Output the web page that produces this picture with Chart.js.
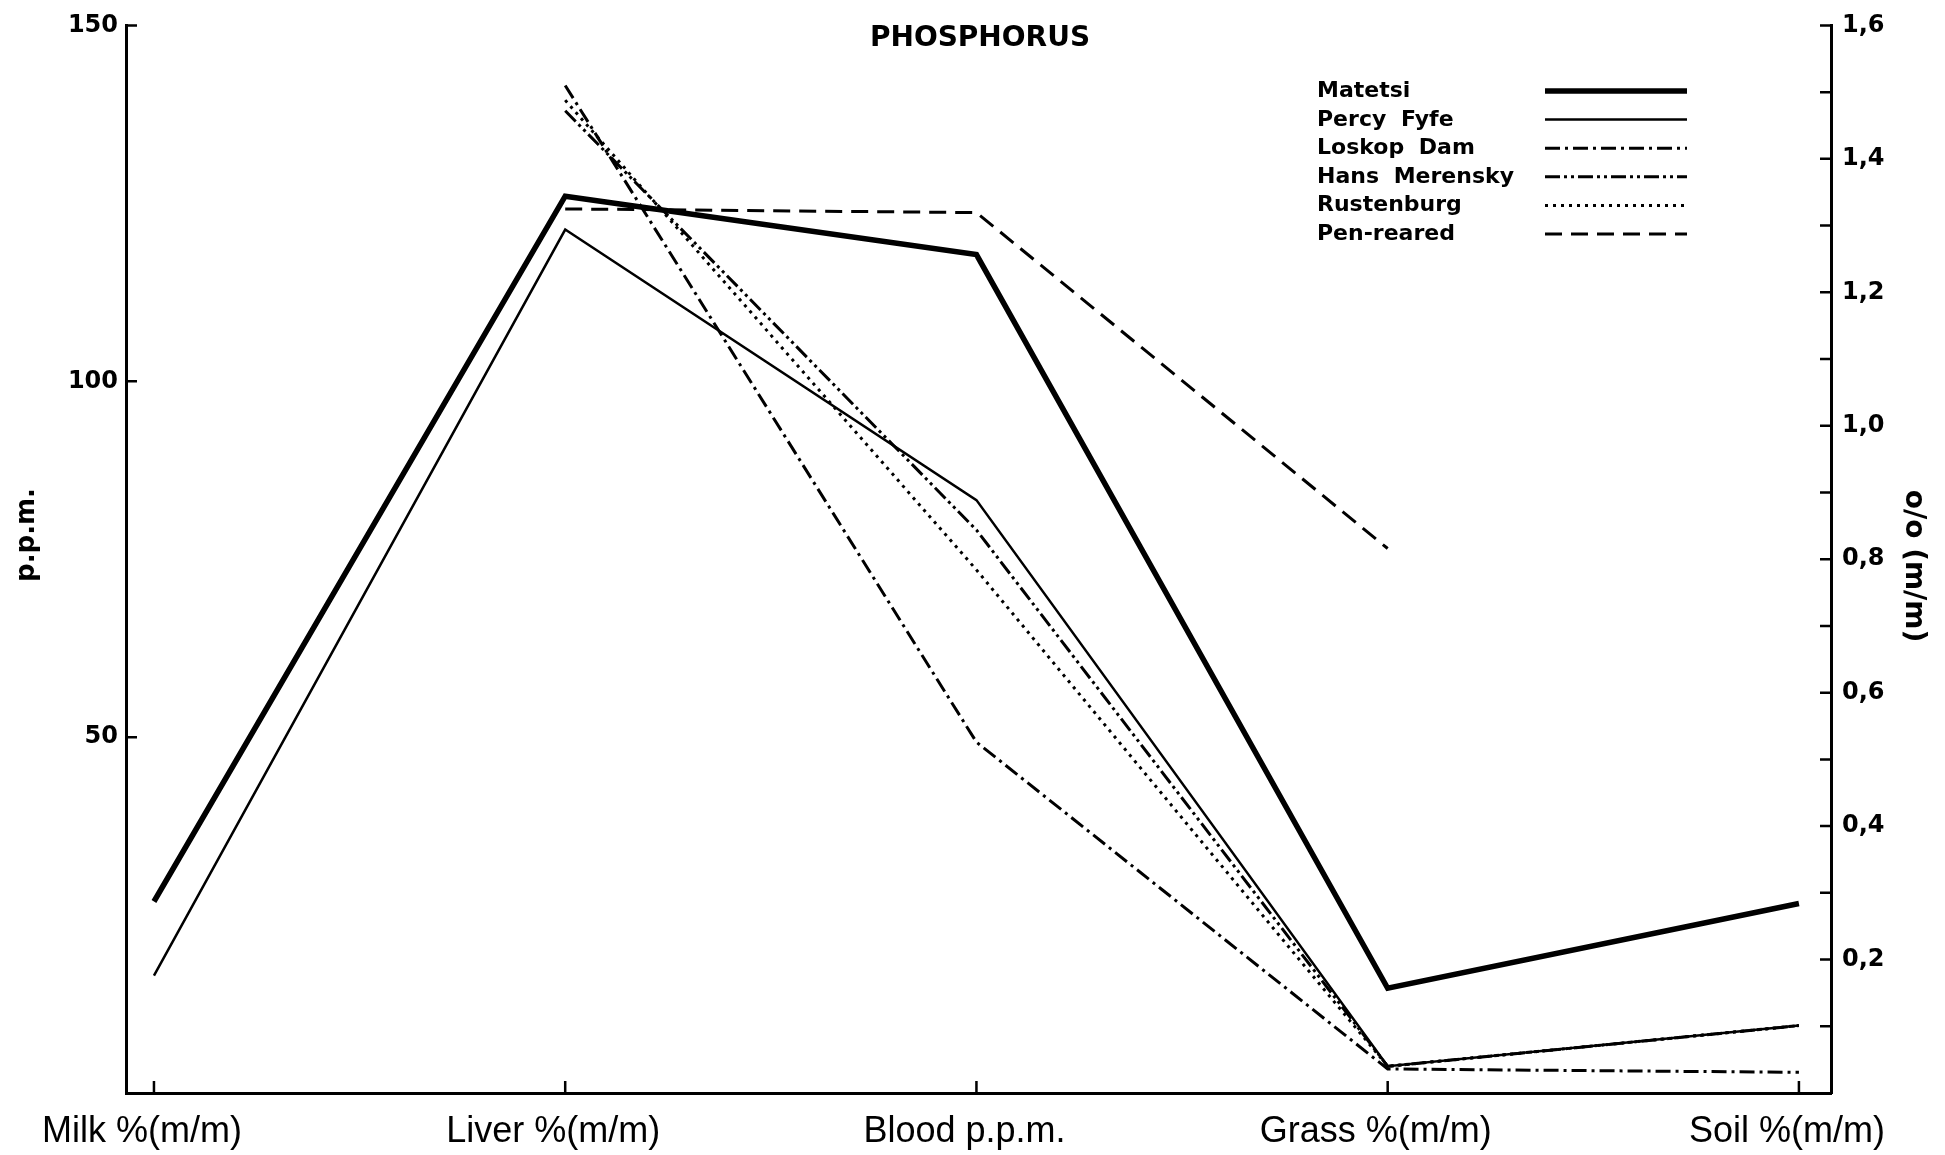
<!DOCTYPE html>
<html>
<head>
<meta charset="utf-8">
<title>Phosphorus</title>
<script src="https://cdn.jsdelivr.net/npm/chart.js@4.4.1/dist/chart.umd.min.js"></script>
<style>
  html, body { margin: 0; padding: 0; background: #fff; overflow: hidden; }
  #wrap { width: 1945px; height: 1155px; }
</style>
</head>
<body>
<div id="wrap"><canvas id="chart" width="1945" height="1155"></canvas></div>
<script>
// Sample types along the horizontal axis and the unit each one is read in
const categories = ['Milk %(m/m)', 'Liver %(m/m)', 'Blood p.p.m.', 'Grass %(m/m)', 'Soil %(m/m)'];
const categoryUnits = ['%', '%', 'ppm', '%', '%'];

// Axis ranges: left axis in p.p.m., right axis in % (m/m)
const ppmRange = [0, 150];
const ppmStep = 50;
const pctRange = [0, 1.6];
const pctStep = 0.1;

// Phosphorus levels per area (null = not sampled)
const seriesNames = ['Matetsi', 'Percy Fyfe', 'Loskop Dam', 'Hans Merensky', 'Rustenburg', 'Pen-reared'];
const matetsi      = [0.287, 1.344, 117.8, 0.157, 0.284];
const percyFyfe    = [0.176, 1.294,  83.3, 0.040, 0.101];
const loskopDam    = [null,  1.510,  49.3, 0.036, 0.031];
const hansMerensky = [null,  1.472,  79.1, 0.040, 0.101];
const rustenburg   = [null,  1.488,  73.5, 0.040, 0.101];
const penReared    = [null,  1.325, 123.7, 0.816, null];
const seriesValues = [matetsi, percyFyfe, loskopDam, hansMerensky, rustenburg, penReared];

// Line styles, one per area
const lineStyles = [
  { width: 5.5, dash: [] },
  { width: 2.5, dash: [] },
  { width: 3,   dash: [15, 5, 3, 5] },
  { width: 3,   dash: [15, 4, 3, 4, 3, 4] },
  { width: 3,   dash: [3, 5] },
  { width: 3,   dash: [17, 9] }
];

// Everything is plotted against the right-hand % axis; p.p.m. readings are
// carried over through the ratio of the two axis ranges.
function toPoints(values) {
  const pts = [];
  values.forEach((v, i) => {
    if (v === null) return;
    const y = categoryUnits[i] === 'ppm' ? v * pctRange[1] / ppmRange[1] : v;
    pts.push({ x: i, y: y });
  });
  return pts;
}

const datasets = seriesNames.map((name, i) => ({
  label: name,
  data: toPoints(seriesValues[i]),
  yAxisID: 'y1',
  borderColor: '#000',
  backgroundColor: '#000',
  borderWidth: lineStyles[i].width,
  borderDash: lineStyles[i].dash,
  borderCapStyle: 'butt',
  borderJoinStyle: 'miter',
  pointRadius: 0,
  pointHoverRadius: 0,
  tension: 0,
  fill: false
}));

const FONT = '"DejaVu Sans", "Liberation Sans", sans-serif';

// Inward-pointing tick marks on all three axes
const tickMarks = {
  id: 'tickMarks',
  afterDraw(chart) {
    const { ctx, chartArea: a, scales } = chart;
    ctx.save();
    ctx.strokeStyle = '#000';
    ctx.lineWidth = 2.5;
    ctx.setLineDash([]);
    ctx.beginPath();
    scales.y.ticks.forEach(t => {
      if (t.value <= 0) return;
      const p = scales.y.getPixelForValue(t.value);
      ctx.moveTo(a.left, p); ctx.lineTo(a.left + 11, p);
    });
    scales.y1.ticks.forEach(t => {
      if (t.value <= 0) return;
      const p = scales.y1.getPixelForValue(t.value);
      ctx.moveTo(a.right - 11, p); ctx.lineTo(a.right, p);
    });
    scales.x.ticks.forEach(t => {
      const p = scales.x.getPixelForValue(t.value);
      ctx.moveTo(p, a.bottom); ctx.lineTo(p, a.bottom - 12);
    });
    ctx.stroke();
    ctx.restore();
  }
};

// Title, rotated axis titles and the key in the upper right
const annotations = {
  id: 'annotations',
  afterDraw(chart) {
    const ctx = chart.ctx;
    ctx.save();
    ctx.fillStyle = '#000';
    ctx.strokeStyle = '#000';

    ctx.font = 'bold 28px ' + FONT;
    ctx.textAlign = 'center';
    ctx.textBaseline = 'alphabetic';
    ctx.fillText('PHOSPHORUS', 980, 46);

    ctx.font = 'bold 26px ' + FONT;
    ctx.save();
    ctx.translate(34, 535);
    ctx.rotate(-Math.PI / 2);
    ctx.fillText('p.p.m.', 0, 0);
    ctx.restore();

    ctx.font = 'bold 28px ' + FONT;
    ctx.save();
    ctx.translate(1906, 566);
    ctx.rotate(Math.PI / 2);
    ctx.fillText('o/o (m/m)', 0, 0);
    ctx.restore();

    ctx.font = 'bold 22px ' + FONT;
    ctx.textAlign = 'left';
    ctx.wordSpacing = '7px';
    chart.data.datasets.forEach((ds, i) => {
      const base = 97 + i * 28.6;
      ctx.fillText(ds.label, 1317, base);
      ctx.beginPath();
      ctx.lineWidth = ds.borderWidth;
      ctx.setLineDash(ds.borderDash);
      ctx.moveTo(1545, base - 6);
      ctx.lineTo(1687, base - 6);
      ctx.stroke();
    });
    ctx.restore();
  }
};

new Chart(document.getElementById('chart'), {
  type: 'line',
  data: { datasets },
  plugins: [tickMarks, annotations],
  options: {
    responsive: false,
    animation: false,
    devicePixelRatio: 1,
    layout: { padding: { top: 20, left: 0, right: 0, bottom: 0 } },
    plugins: {
      legend: { display: false },
      title: { display: false },
      tooltip: { enabled: false }
    },
    scales: {
      x: {
        type: 'linear',
        min: -0.068,
        max: 4.078,
        afterBuildTicks: s => { s.ticks = categories.map((_, i) => ({ value: i })); },
        afterFit: s => { s.height = 62; },
        grid: { display: true, drawOnChartArea: false, drawTicks: false, color: 'rgba(0,0,0,0)' },
        border: { display: true, width: 3, color: '#000' },
        ticks: {
          autoSkip: false,
          maxRotation: 0,
          padding: 17,
          labelOffset: -12,
          color: '#000',
          font: { family: '"Liberation Sans", Arial, sans-serif', size: 36 },
          callback: v => categories[v] ?? ''
        }
      },
      y: {
        type: 'linear',
        position: 'left',
        min: ppmRange[0],
        max: ppmRange[1],
        afterFit: s => { s.width = 126; },
        grid: { display: true, drawOnChartArea: false, drawTicks: false, color: 'rgba(0,0,0,0)' },
        border: { display: true, width: 3, color: '#000' },
        ticks: {
          stepSize: ppmStep,
          autoSkip: false,
          padding: 8,
          color: '#000',
          font: { family: FONT, size: 24, weight: 'bold' },
          callback: v => (v > 0 ? String(v) : '')
        }
      },
      y1: {
        type: 'linear',
        position: 'right',
        min: pctRange[0],
        max: pctRange[1],
        afterFit: s => { s.width = 114; },
        grid: { display: true, drawOnChartArea: false, drawTicks: false, color: 'rgba(0,0,0,0)' },
        border: { display: true, width: 3, color: '#000' },
        ticks: {
          stepSize: pctStep,
          autoSkip: false,
          padding: 11,
          color: '#000',
          font: { family: FONT, size: 24, weight: 'bold' },
          callback: v => {
            const tenths = Math.round(v * 10);
            return (tenths > 0 && tenths % 2 === 0) ? (tenths / 10).toFixed(1).replace('.', ',') : '';
          }
        }
      }
    }
  }
});
</script>
</body>
</html>
